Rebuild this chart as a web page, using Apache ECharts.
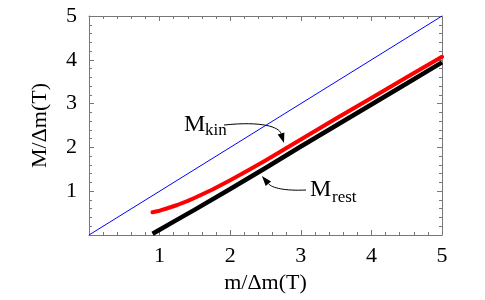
<!DOCTYPE html>
<html><head><meta charset="utf-8">
<script src="https://cdn.jsdelivr.net/npm/echarts@6/dist/echarts.min.js"></script>
<style>html,body{margin:0;padding:0;background:#fff}#c{width:485px;height:300px}</style>
</head><body><div id="c"></div>
<script>
var xTicks = [1, 2, 3, 4, 5];
var yTicks = [1, 2, 3, 4, 5];
var diagX = [0, 5];
var diagY = [0, 5];
var kinX = [0.9, 1.0, 1.1, 1.25, 1.4, 1.5, 1.75, 2.0, 2.25, 2.5, 2.75, 3.0, 3.5, 4.0, 4.5, 5.0];
var kinY = [0.52, 0.555, 0.605, 0.685, 0.78, 0.85, 1.04, 1.25, 1.47, 1.70, 1.94, 2.18, 2.66, 3.13, 3.60, 4.07];
var restX = [0.9, 1.0, 1.25, 1.5, 2.0, 2.5, 3.0, 3.5, 4.0, 4.5, 5.0];
var restY = [0.03, 0.12, 0.35, 0.58, 1.05, 1.53, 2.02, 2.50, 2.98, 3.46, 3.94];

function pairs(xs, ys){ return xs.map(function(x,i){return [x, ys[i]];}); }
var FONT = 'Liberation Serif';
var axisColor = '#777';

function mkAxis(pos, showLabel){
  return {
    type: 'value', min: 0, max: 5, interval: 1, position: pos,
    axisLine: {show: true, onZero: false, lineStyle: {color: axisColor, width: 1}},
    axisTick: {show: true, inside: true, length: 5, lineStyle: {color: axisColor}},
    minorTick: {show: true, splitNumber: 5, length: 3, lineStyle: {color: axisColor}},
    splitLine: {show: false},
    axisLabel: {show: showLabel, fontFamily: FONT, fontSize: 22, color: '#000', margin: 10,
      formatter: function(v){ return v === 0 ? '' : String(v); }}
  };
}
var xb = mkAxis('bottom', true);
xb.name = 'm/\u0394m(T)'; xb.nameLocation = 'middle'; xb.nameGap = 32;
xb.nameTextStyle = {fontFamily: FONT, fontSize: 22, color: '#000'};
var xt = mkAxis('top', false);
var yl = mkAxis('left', true);
yl.axisLabel.margin = 12;
yl.name = 'M/\u0394m(T)'; yl.nameLocation = 'middle'; yl.nameGap = 38;
yl.nameTextStyle = {fontFamily: FONT, fontSize: 22, color: '#000'};
var yr = mkAxis('right', false);

var chart = echarts.init(document.getElementById('c'), null, {renderer: 'canvas'});
chart.setOption({
  animation: false,
  grid: {left: 89, right: 43, top: 16, bottom: 65},
  xAxis: [xb, xt],
  yAxis: [yl, yr],
  series: [
    {type: 'line', data: pairs(diagX, diagY), showSymbol: false, lineStyle: {color: '#0000ff', width: 1}},
    {type: 'line', data: pairs(restX, restY), showSymbol: false, lineStyle: {color: '#000', width: 4.5, join: 'round', cap: 'butt'}},
    {type: 'line', data: pairs(kinX, kinY), showSymbol: false, lineStyle: {color: '#ff0000', width: 4, join: 'round', cap: 'round'}}
  ]
});

function px(x, y){ return chart.convertToPixel({gridIndex: 0}, [x, y]); }
function arrow(pts){
  var p = pts.map(function(q){ return px(q[0], q[1]); });
  var end = p[3], c2 = p[2];
  var dx = end[0]-c2[0], dy = end[1]-c2[1], L = Math.sqrt(dx*dx+dy*dy);
  dx /= L; dy /= L;
  var len = 10, hw = 3.5;
  var bx = end[0]-dx*len, by = end[1]-dy*len;
  return [
    {type: 'bezierCurve', shape: {x1: p[0][0], y1: p[0][1], cpx1: p[1][0], cpy1: p[1][1], cpx2: p[2][0], cpy2: p[2][1], x2: bx, y2: by},
      style: {stroke: '#000', lineWidth: 1, fill: null}},
    {type: 'polygon', shape: {points: [end, [bx - dy*hw, by + dx*hw], [bx + dy*hw, by - dx*hw]]}, style: {fill: '#000'}}
  ];
}
function label(x, y, txt, size){
  var p = px(x, y);
  return {type: 'text', x: p[0], y: p[1], style: {text: txt, fontFamily: FONT, fontSize: size, fill: '#000', verticalAlign: 'top'}};
}
var g = [];
g.push(label(1.346, 2.785, 'M', 24));
g.push(label(1.643, 2.58, 'kin', 17));
g = g.concat(arrow([[1.912, 2.511], [2.45, 2.603], [2.691, 2.466], [2.762, 2.10]]));
g.push(label(3.13, 1.301, 'M', 24));
g.push(label(3.442, 1.05, 'rest', 17));
g = g.concat(arrow([[3.074, 1.027], [2.776, 1.005], [2.592, 1.073], [2.45, 1.347]]));
chart.setOption({graphic: g});
</script></body></html>
